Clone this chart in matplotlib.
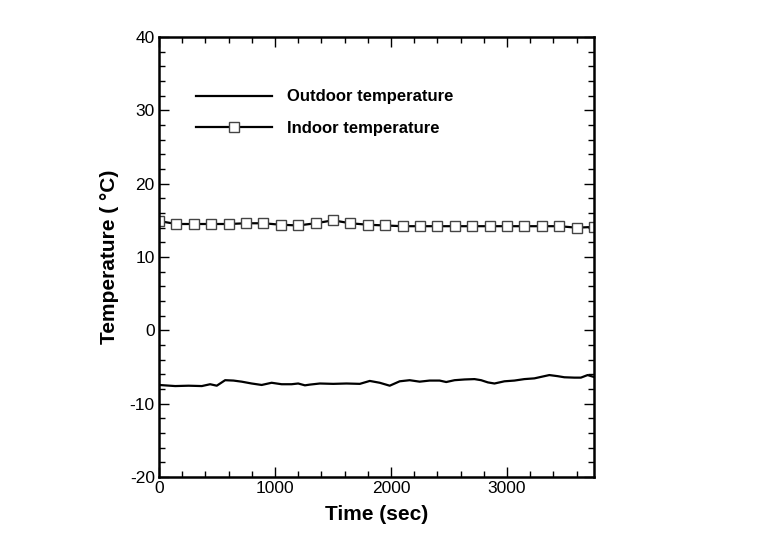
import matplotlib
matplotlib.use("Agg")
import matplotlib.pyplot as plt
from matplotlib.ticker import MultipleLocator

plt.rcParams['font.family'] = ['Liberation Sans', 'DejaVu Sans']
plt.rcParams['axes.unicode_minus'] = False

# Outdoor temperature (time in sec, temperature in deg C)
outdoor_t = [0, 140, 255, 369, 441, 498, 570, 642, 713, 799, 885, 971, 1057, 1143, 1200,
             1258, 1301, 1387, 1502, 1616, 1731, 1817, 1903, 1989, 2075, 2161, 2247, 2333,
             2419, 2476, 2548, 2634, 2720, 2777, 2835, 2892, 2978, 3064, 3150, 3236, 3293,
             3365, 3437, 3494, 3580, 3637, 3695, 3737, 3750]
outdoor_v = [-7.45, -7.6, -7.55, -7.6, -7.35, -7.55, -6.8, -6.85, -7.0, -7.25, -7.45, -7.15,
             -7.35, -7.35, -7.25, -7.5, -7.4, -7.25, -7.3, -7.25, -7.3, -6.9, -7.15, -7.55,
             -6.95, -6.8, -7.0, -6.85, -6.85, -7.05, -6.8, -6.7, -6.65, -6.8, -7.1, -7.25,
             -6.95, -6.85, -6.65, -6.55, -6.35, -6.1, -6.25, -6.4, -6.45, -6.45, -6.1, -6.3,
             -6.35]

# Indoor temperature
indoor_t = [0, 150, 300, 450, 600, 750, 900, 1050, 1200, 1350, 1500, 1650, 1800, 1950,
            2100, 2250, 2400, 2550, 2700, 2850, 3000, 3150, 3300, 3450, 3600, 3750]
indoor_v = [14.9, 14.5, 14.5, 14.5, 14.5, 14.6, 14.6, 14.4, 14.3, 14.6, 15.0, 14.6, 14.4,
            14.3, 14.2, 14.2, 14.2, 14.2, 14.2, 14.2, 14.2, 14.2, 14.2, 14.2, 14.0, 14.1]

fig = plt.figure(figsize=(7.68, 5.54), dpi=100)
ax = fig.add_axes([159/768, 1-477/554, (594-159)/768, (477-37)/554])

ax.plot(outdoor_t, outdoor_v, color='black', lw=1.6, label='Outdoor temperature')
ax.plot(indoor_t, indoor_v, color='black', lw=1.6, marker='s', markersize=7,
        markerfacecolor='white', markeredgecolor='#444444', markeredgewidth=1.0,
        label='Indoor temperature')

ax.set_xlim(0, 3750)
ax.set_ylim(-20, 40)
ax.xaxis.set_major_locator(MultipleLocator(1000))
ax.xaxis.set_minor_locator(MultipleLocator(200))
ax.yaxis.set_major_locator(MultipleLocator(10))
ax.yaxis.set_minor_locator(MultipleLocator(2))
ax.tick_params(which='both', direction='in', top=True, right=True, labelsize=12.5,
               width=1.0, pad=3)
ax.tick_params(which='major', length=7)
ax.tick_params(which='minor', length=4)
for s in ax.spines.values():
    s.set_linewidth(1.8)

ax.set_xlabel('Time (sec)', fontsize=15, fontweight='bold', labelpad=6)
ax.set_ylabel('Temperature ( °C)', fontsize=15, fontweight='bold', labelpad=8)

leg = ax.legend(loc='upper left', bbox_to_anchor=(0.05, 0.915), frameon=False,
                prop={'size': 12, 'weight': 'bold'}, handlelength=4.6,
                handletextpad=0.9, labelspacing=1.0, numpoints=1)

fig.savefig('out.png', dpi=100)
